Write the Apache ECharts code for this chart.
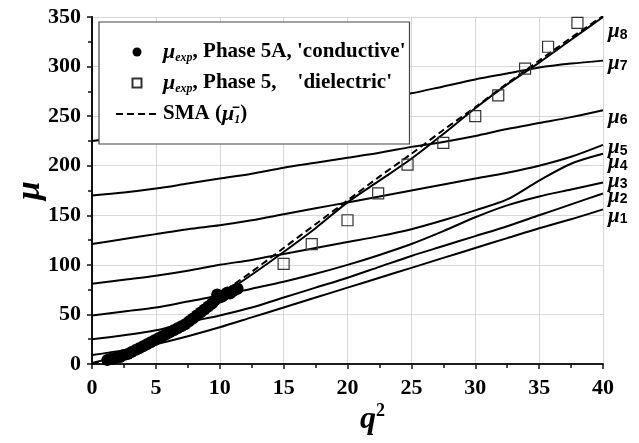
<!DOCTYPE html>
<html>
<head>
<meta charset="utf-8">
<script src="https://cdn.jsdelivr.net/npm/echarts@6/dist/echarts.min.js"></script>
<style>
  html, body { margin: 0; padding: 0; background: #fff; }
  #chart { width: 639px; height: 443px; }
</style>
</head>
<body>
<div id="chart"></div>
<script>
// q^2 sample points for the model curves
var qSq = [0, 2.5, 5, 7.5, 10, 12.5, 15, 17.5, 20, 22.5, 25, 27.5, 30, 32.5, 35, 37.5, 40];

// eigenvalue curves mu_1 .. mu_8
var mu1 = [9, 14, 20, 28, 37, 47, 57, 67, 77, 87, 97, 107, 117, 127, 137, 146, 156];
var mu2 = [25, 29, 34, 42, 49, 57, 67, 77, 87, 98, 109, 119, 129, 139, 150, 161, 172];
var mu3 = [49, 53, 57, 63, 69, 76, 83, 91, 100, 110, 121, 134, 148, 160, 169, 176, 183];
var mu4 = [81, 85, 89, 94, 100, 105, 111, 117, 123, 129, 136, 145, 155, 166, 185, 202, 212];
var mu5 = [121, 126, 131, 136, 140, 145, 151, 157, 163, 169, 175, 181, 187, 193, 200, 209, 221];
var mu6 = [170, 173, 177, 182, 187, 192, 198, 203, 208, 213, 219, 224, 230, 237, 243, 249, 256];
var mu7 = [225, 229, 234, 239, 244, 248, 253, 257, 262, 267, 273, 280, 287, 293, 299, 303, 306];
var mu8 = [1, 10, 24, 43, 68, 90, 113, 137, 163, 185, 207, 232, 258, 282, 304, 327, 350];

// SMA approximation (dashed)
var smaMu = [0, 11, 26, 45, 70, 93, 117, 141, 165, 189, 212, 236, 259, 283, 306, 329, 351];

// Phase 5A, conductive (filled dots)
var condQ = [1.2, 1.4, 1.6, 1.8, 2.0, 2.2, 2.5, 2.8, 3.1, 3.4, 3.7, 4.0, 4.3, 4.6, 4.9, 5.2, 5.5, 5.8, 6.1, 6.4,
             6.7, 7.0, 7.3, 7.6, 7.9, 8.2, 8.5, 8.8, 9.1, 9.4, 9.6, 9.8, 10.0, 10.2, 10.4, 10.6, 10.8, 11.0, 11.2, 11.4];
var condMu = [4, 5, 5, 6, 7, 7, 9, 10, 12, 14, 16, 18, 20, 22, 24, 26, 28, 30, 32, 34,
              36, 38, 40, 43, 46, 49, 52, 55, 58, 61, 64, 70, 67, 68, 70, 72, 71, 73, 75, 76];

// Phase 5, dielectric (open squares)
var dielQ = [15.0, 17.2, 20.0, 22.4, 24.7, 27.5, 30.0, 31.8, 33.9, 35.7, 38.0];
var dielMu = [101, 121, 145, 172, 201, 223, 250, 271, 298, 320, 344];

var curves = [mu1, mu2, mu3, mu4, mu5, mu6, mu7, mu8];
var curveLabelDy = [7, 3, -1, 9, 3, 7, 3, 15];

var serif = 'Liberation Serif';
var axisColor = '#111';

function pairs(xs, ys) {
    return xs.map(function (x, i) { return [x, ys[i]]; });
}

var series = curves.map(function (c, k) {
    return {
        name: 'mu' + (k + 1),
        type: 'line',
        data: pairs(qSq, c),
        smooth: 0.3,
        showSymbol: false,
        symbol: 'none',
        lineStyle: { color: '#000', width: 2 },
        z: 3,
        endLabel: {
            show: true,
            distance: 5,
            offset: [0, curveLabelDy[k]],
            formatter: '{m|μ}{s|' + (k + 1) + '}',
            rich: {
                m: { fontFamily: serif, fontStyle: 'italic', fontWeight: 'bold', fontSize: 21, color: '#000', lineHeight: 20 },
                s: { fontFamily: 'Liberation Sans', fontSize: 14, fontWeight: 'bold', color: '#000', verticalAlign: 'bottom', lineHeight: 20, padding: [12, 0, 0, 0] }
            }
        }
    };
});

series.push({
    name: 'sma',
    type: 'line',
    data: pairs(qSq, smaMu),
    smooth: 0.3,
    showSymbol: false,
    symbol: 'none',
    itemStyle: { color: 'rgba(0,0,0,0)', borderColor: 'rgba(0,0,0,0)' },
    lineStyle: { color: '#000', width: 2, type: [7, 4] },
    z: 3
});

series.push({
    name: 'cond',
    type: 'scatter',
    data: pairs(condQ, condMu),
    symbol: 'circle',
    symbolSize: 12,
    itemStyle: { color: '#000', opacity: 1 },
    z: 5
});

series.push({
    name: 'diel',
    type: 'scatter',
    data: pairs(dielQ, dielMu),
    symbol: 'rect',
    symbolSize: 11,
    itemStyle: { color: 'rgba(255,255,255,0)', borderColor: '#333', borderWidth: 1.2, opacity: 1 },
    z: 5
});

var legendText = {
    cond: "{mu|μ}{sub|exp}{t|, Phase 5A, 'conductive'}",
    diel: "{mu|μ}{sub|exp}{t|, Phase 5,    'dielectric'}",
    sma: '{t|SMA (}{mu|μ̄}{sub|1}{t|)}'
};

var myChart = echarts.init(document.getElementById('chart'), null, { renderer: 'canvas' });

var option = {
    animation: false,
    backgroundColor: '#fff',
    grid: { left: 92, right: 36, top: 17, bottom: 79, containLabel: false, outerBoundsMode: 'none' },
    legend: {
        data: [
            { name: 'cond', icon: 'circle' },
            { name: 'diel', icon: 'path://M0,0L10,0L10,10L0,10Z' },
            { name: 'sma' }
        ],
        orient: 'vertical',
        left: 99,
        top: 22,
        padding: [19, 4, 18, 16],
        itemGap: 8,
        itemWidth: 42,
        itemHeight: 9,
        symbolKeepAspect: true,
        backgroundColor: '#fff',
        borderColor: '#444',
        borderWidth: 1.2,
        borderRadius: 0,
        formatter: function (name) { return legendText[name]; },
        textStyle: {
            color: '#000',
            rich: {
                t: { fontFamily: serif, fontWeight: 'bold', fontSize: 21, color: '#000', lineHeight: 24 },
                mu: { fontFamily: serif, fontWeight: 'bold', fontStyle: 'italic', fontSize: 22, color: '#000', lineHeight: 24 },
                sub: { fontFamily: serif, fontWeight: 'bold', fontStyle: 'italic', fontSize: 12, color: '#000', lineHeight: 24, verticalAlign: 'bottom', padding: [7, 0, 0, 0] }
            }
        }
    },
    xAxis: [{
        type: 'value',
        position: 'bottom',
        min: 0,
        max: 40,
        interval: 5,
        name: '{q|q}{s|2}',
        nameLocation: 'middle',
        nameGap: 38,
        nameMoveOverlap: false,
        nameTextStyle: {
            padding: [0, 0, 0, 50],
            rich: {
                q: { fontFamily: serif, fontStyle: 'italic', fontWeight: 'bold', fontSize: 32, color: '#000', verticalAlign: 'bottom', lineHeight: 34 },
                s: { fontFamily: serif, fontWeight: 'bold', fontSize: 18, color: '#000', verticalAlign: 'top', lineHeight: 34 }
            }
        },
        axisLine: { show: true, lineStyle: { color: axisColor, width: 1.5 } },
        axisTick: { show: true, inside: false, length: 5, lineStyle: { color: axisColor, width: 1.5 } },
        minorTick: { show: true, splitNumber: 2, length: 4, lineStyle: { color: axisColor, width: 1.5 } },
        axisLabel: { fontFamily: serif, fontWeight: 'bold', fontSize: 22, color: '#000', margin: 13 },
        splitLine: { show: true, lineStyle: { color: '#d6d6d6', width: 1 } }
    }, {
        type: 'value',
        position: 'top',
        min: 0,
        max: 40,
        interval: 5,
        axisLine: { show: true, lineStyle: { color: axisColor, width: 1.5 } },
        axisTick: { show: true, inside: true, length: 5, lineStyle: { color: axisColor, width: 1.5 } },
        minorTick: { show: true, splitNumber: 2, length: 4, lineStyle: { color: axisColor, width: 1.5 } },
        axisLabel: { show: false },
        splitLine: { show: false }
    }],
    yAxis: [{
        type: 'value',
        position: 'left',
        min: 0,
        max: 350,
        interval: 50,
        name: 'μ',
        nameLocation: 'middle',
        nameRotate: 90,
        nameGap: 45,
        nameMoveOverlap: false,
        nameTextStyle: { fontFamily: serif, fontStyle: 'italic', fontWeight: 'bold', fontSize: 34, color: '#000' },
        axisLine: { show: true, lineStyle: { color: axisColor, width: 1.5 } },
        axisTick: { show: true, inside: false, length: 5, lineStyle: { color: axisColor, width: 1.5 } },
        minorTick: { show: true, splitNumber: 2, length: 4, lineStyle: { color: axisColor, width: 1.5 } },
        axisLabel: { fontFamily: serif, fontWeight: 'bold', fontSize: 22, color: '#000', margin: 11 },
        splitLine: { show: true, lineStyle: { color: '#d6d6d6', width: 1 } }
    }, {
        type: 'value',
        position: 'right',
        min: 0,
        max: 350,
        interval: 50,
        axisLine: { show: true, lineStyle: { color: axisColor, width: 2 } },
        axisTick: { show: true, inside: true, length: 5, lineStyle: { color: axisColor, width: 1.5 } },
        minorTick: { show: true, splitNumber: 2, length: 4, lineStyle: { color: axisColor, width: 1.5 } },
        axisLabel: { show: false },
        splitLine: { show: false }
    }],
    series: series
};

myChart.setOption(option);
</script>
</body>
</html>
